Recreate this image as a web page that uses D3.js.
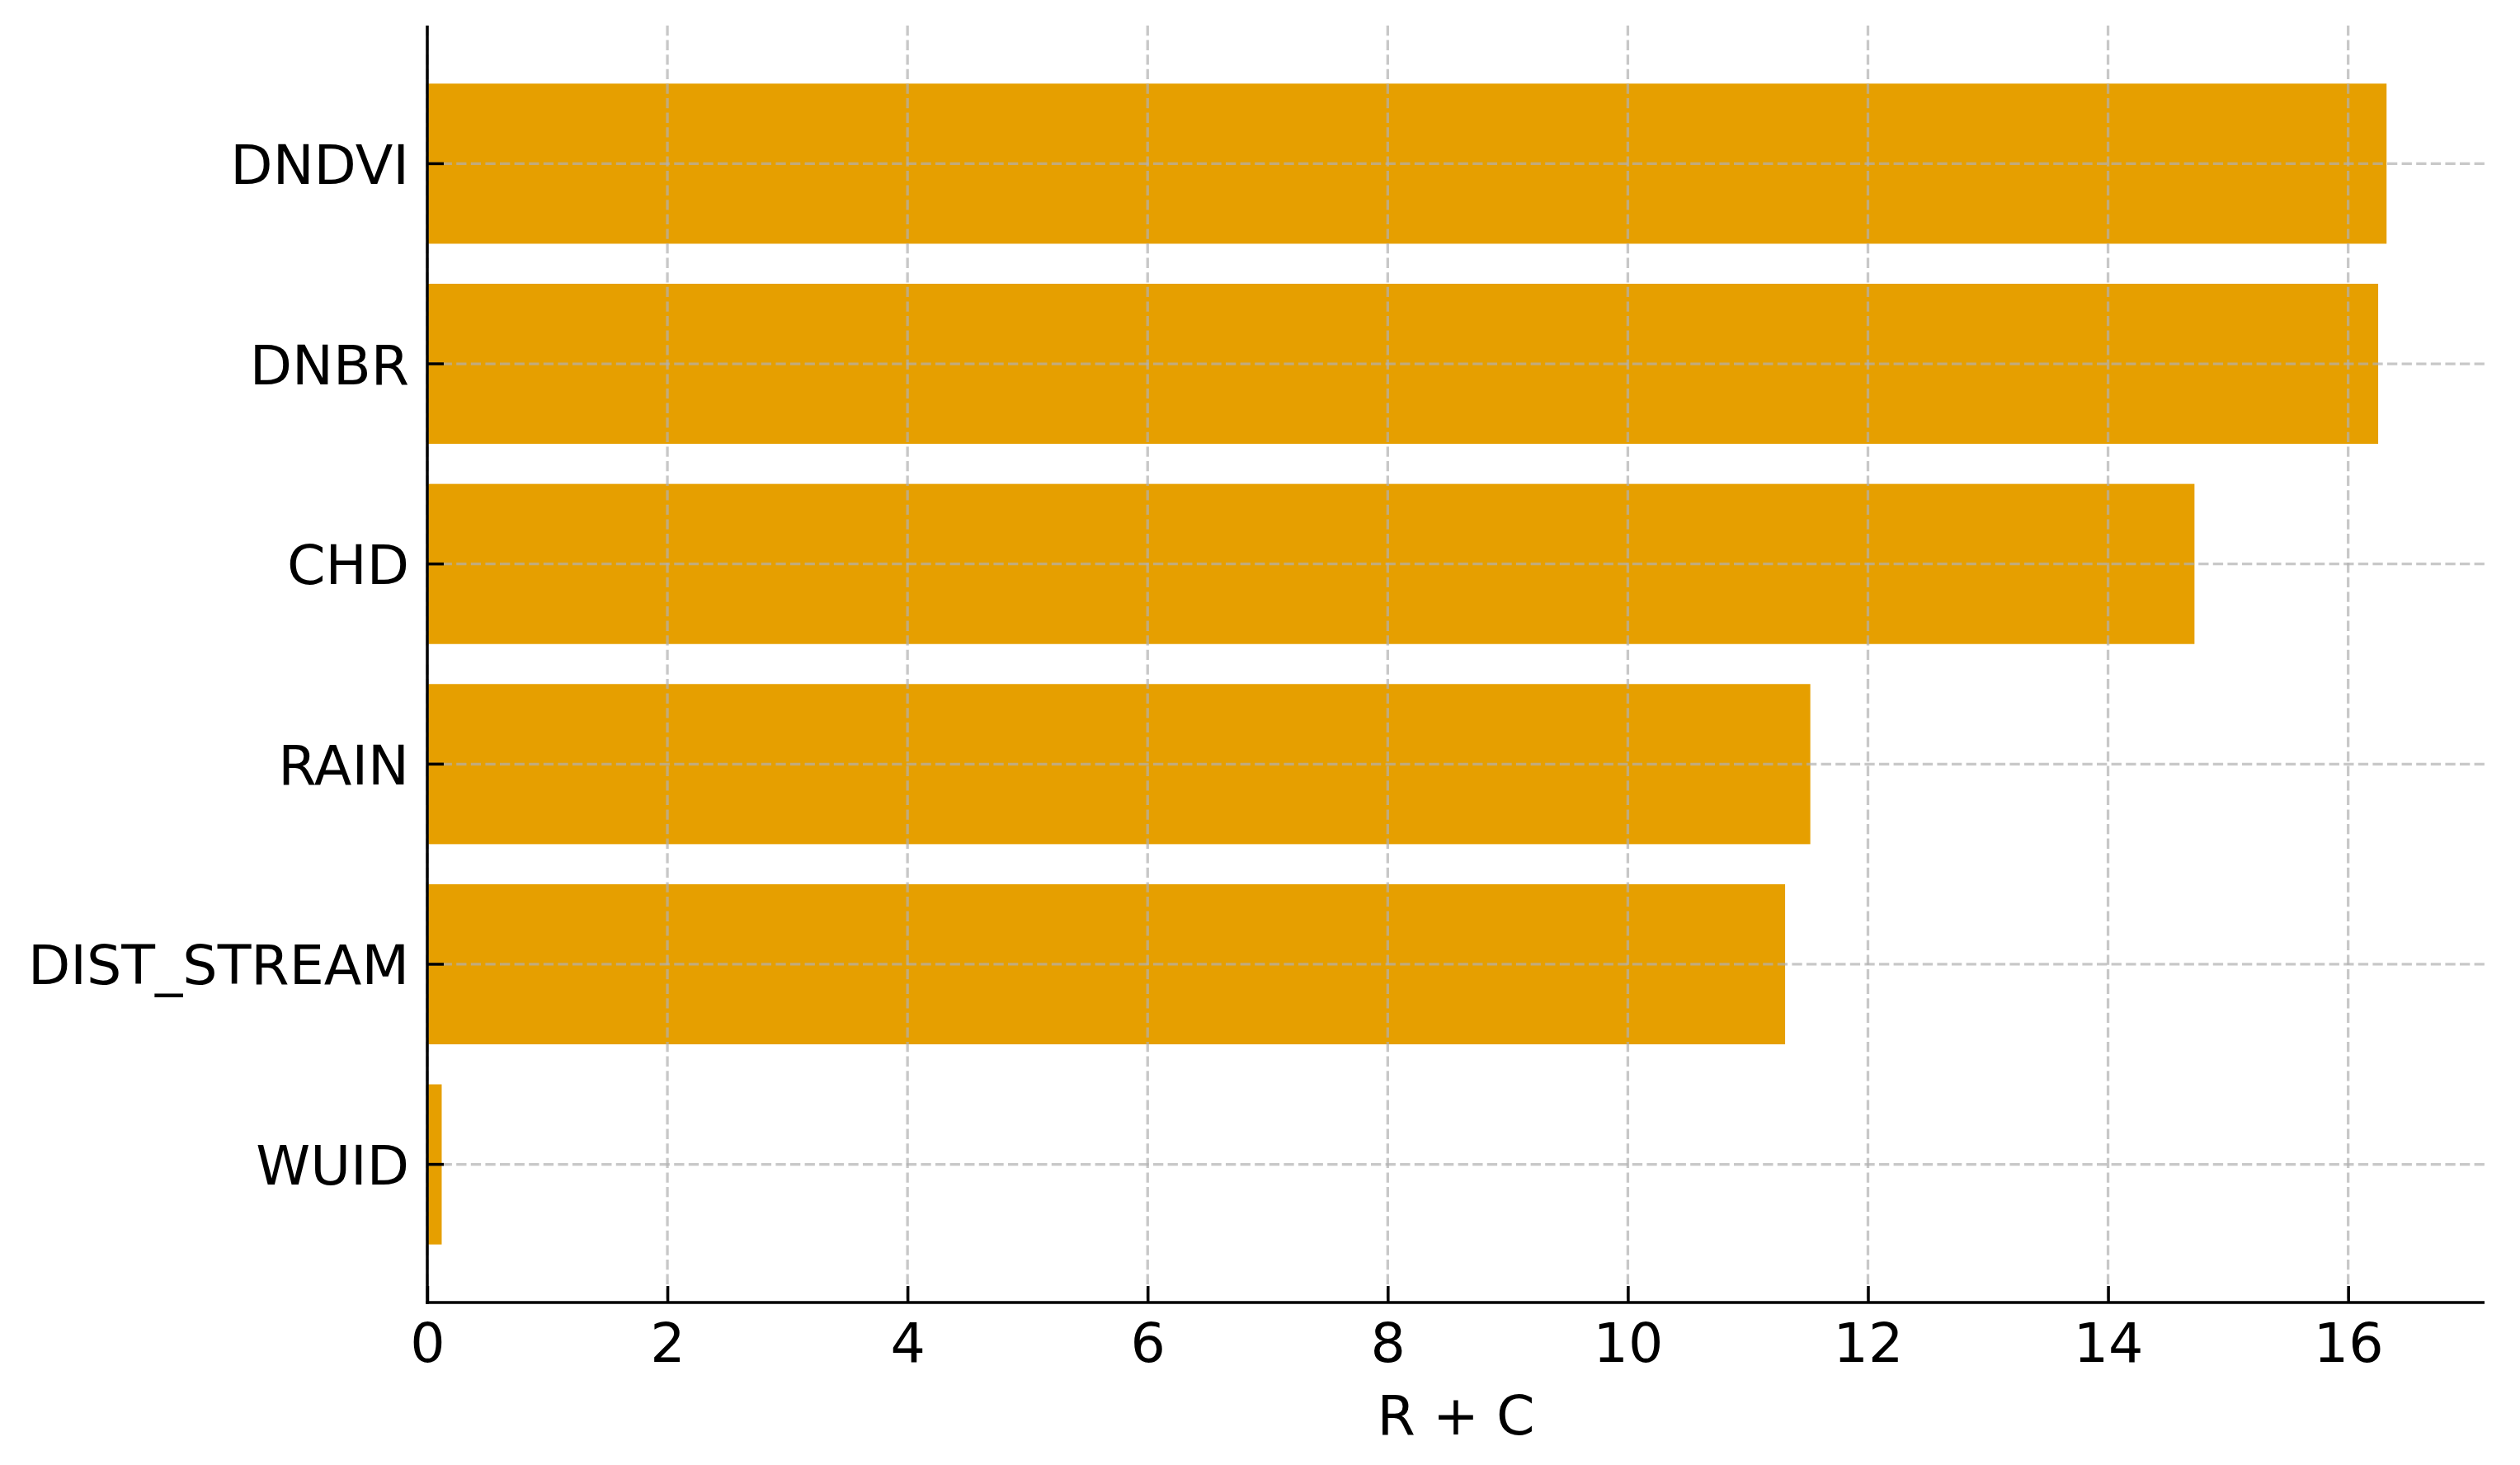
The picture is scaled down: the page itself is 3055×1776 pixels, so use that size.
<!DOCTYPE html>
<html>
<head>
<meta charset="utf-8">
<script src="https://cdn.jsdelivr.net/npm/d3@7"></script>
<style>
  html, body { margin: 0; padding: 0; background: #ffffff; }
  svg { display: block; }
  text { font-family: "DejaVu Sans", sans-serif; fill: #000; }
</style>
</head>
<body>
<svg id="chart" width="3055" height="1776"></svg>
<script>
// Data (top to bottom as shown)
const categories = ["DNDVI", "DNBR", "CHD", "RAIN", "DIST_STREAM", "WUID"];
const values = [16.32, 16.25, 14.72, 11.52, 11.31, 0.12];
const xTicks = [0, 2, 4, 6, 8, 10, 12, 14, 16];
const xLabel = "R + C";

(function () {
const mLeft = 518, mRight = 3012, mTop = 31, mBottom = 1579;
const barColor = "#E69F00";
const fontPx = 66.7;

const svg = d3.select("#chart");

const x = d3.scaleLinear()
  .domain([0, d3.max(values) * 1.05])
  .range([mLeft, mRight]);

const y = d3.scaleBand()
  .domain(categories)
  .range([mTop, mBottom])
  .paddingInner(0.2)
  .paddingOuter(0.29);

// bars
svg.append("g")
  .selectAll("rect")
  .data(categories)
  .join("rect")
  .attr("x", x(0))
  .attr("y", d => y(d))
  .attr("width", (d, i) => x(values[i]) - x(0))
  .attr("height", y.bandwidth())
  .attr("fill", barColor);

// grid (drawn above bars, like the reference)
const grid = svg.append("g")
  .attr("stroke", "#b0b0b0")
  .attr("stroke-opacity", 0.7)
  .attr("stroke-width", 3.3)
  .attr("stroke-dasharray", "12.3,5.3");

grid.selectAll("line.vx")
  .data(xTicks)
  .join("line")
  .attr("class", "vx")
  .attr("x1", d => x(d)).attr("x2", d => x(d))
  .attr("y1", mTop).attr("y2", mBottom);

grid.selectAll("line.hy")
  .data(categories)
  .join("line")
  .attr("class", "hy")
  .attr("x1", mLeft).attr("x2", mRight)
  .attr("y1", d => y(d) + y.bandwidth() / 2)
  .attr("y2", d => y(d) + y.bandwidth() / 2);

// x axis
const xAxis = d3.axisBottom(x)
  .tickValues(xTicks)
  .tickFormat(d3.format("d"))
  .tickSizeInner(-20)
  .tickSizeOuter(0)
  .tickPadding(0);

const gx = svg.append("g")
  .attr("transform", `translate(0,${mBottom})`)
  .call(xAxis);
gx.select(".domain").attr("stroke", "#000").attr("stroke-width", 3.5)
  .attr("d", `M${mLeft - 1.75},0H${mRight}`);
gx.selectAll(".tick line").attr("stroke", "#000").attr("stroke-width", 3.5);
gx.selectAll(".tick text")
  .attr("font-size", fontPx)
  .attr("font-family", "DejaVu Sans")
  .attr("fill", "#000")
  .attr("dy", null)
  .attr("y", 71.5);

// y axis
const yAxis = d3.axisLeft(y)
  .tickSizeInner(-20)
  .tickSizeOuter(0)
  .tickPadding(0);

const gy = svg.append("g")
  .attr("transform", `translate(${mLeft},0)`)
  .call(yAxis);
gy.select(".domain").attr("stroke", "#000").attr("stroke-width", 3.5)
  .attr("d", `M0,${mTop}V${mBottom + 1.75}`);
gy.selectAll(".tick line").attr("stroke", "#000").attr("stroke-width", 3.5);
gy.selectAll(".tick text")
  .attr("font-size", fontPx)
  .attr("font-family", "DejaVu Sans")
  .attr("fill", "#000")
  .attr("x", -22)
  .attr("dy", null)
  .attr("y", 24.5);

// x label
svg.append("text")
  .attr("x", (mLeft + mRight) / 2)
  .attr("y", 1739)
  .attr("text-anchor", "middle")
  .attr("font-size", fontPx)
  .text(xLabel);
})();
</script>
</body>
</html>
